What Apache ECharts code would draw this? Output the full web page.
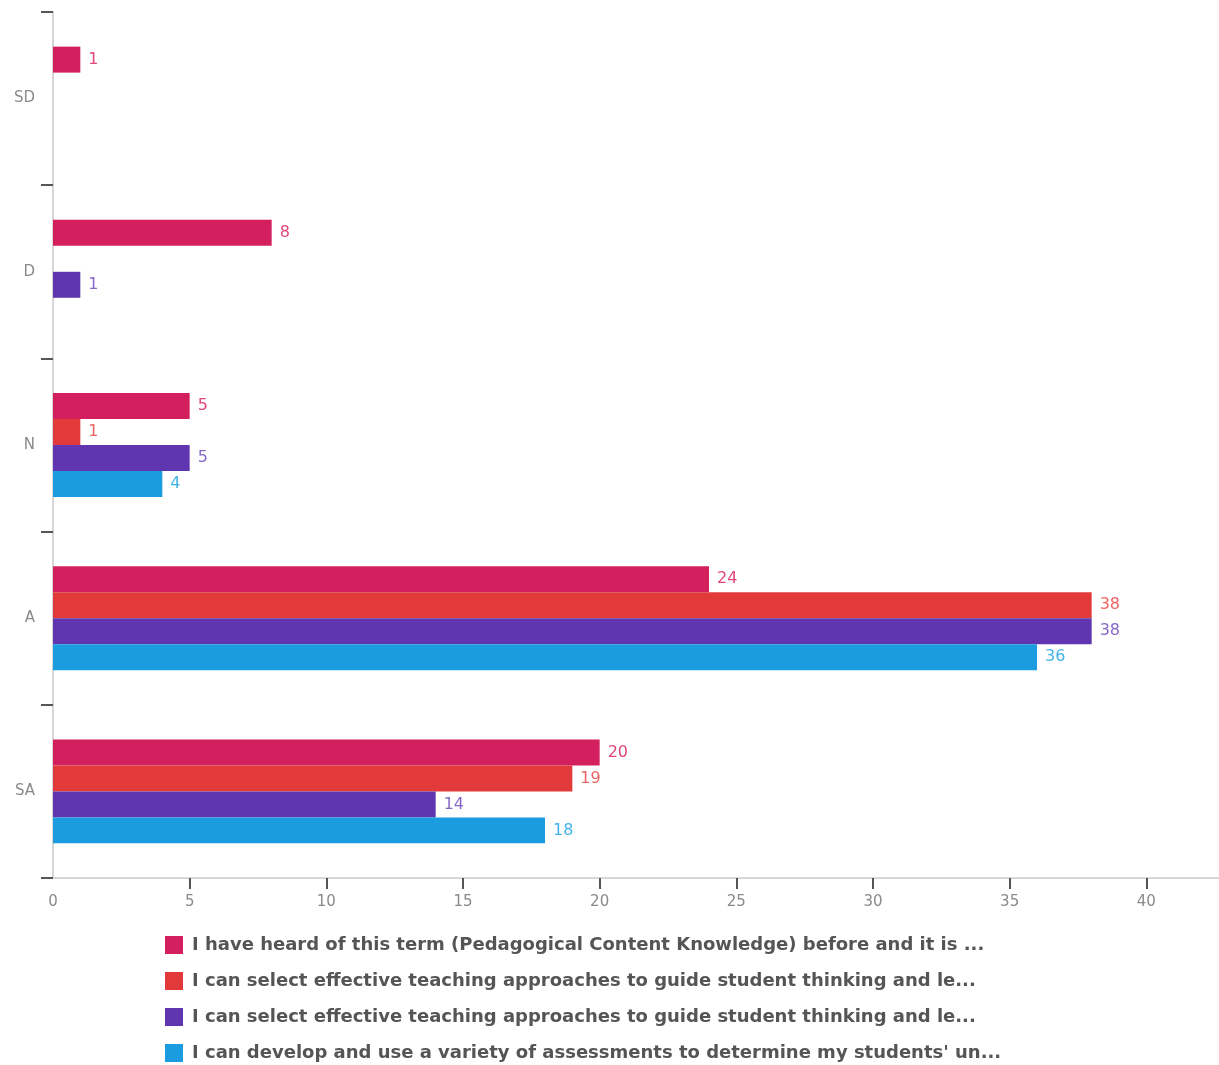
<!DOCTYPE html>
<html>
<head>
<meta charset="utf-8">
<script src="https://cdn.jsdelivr.net/npm/echarts@6/dist/echarts.min.js"></script>
<style>
  html, body { margin: 0; padding: 0; background: #fff; }
  #chart { width: 1219px; height: 1065px; }
</style>
</head>
<body>
<div id="chart"></div>
<script>
// Likert response categories (top to bottom)
const categories = ['SD', 'D', 'N', 'A', 'SA'];

// Survey statements (as shown in the legend)
const seriesNames = [
  'I have heard of this term (Pedagogical Content Knowledge) before and it is ...',
  'I can select effective teaching approaches to guide student thinking and le...',
  'I can select effective teaching approaches to guide student thinking and le...\u200b',
  'I can develop and use a variety of assessments to determine my students\' un...'
];

// Response counts per category; null = no responses
const heardOfTerm       = [1, 8, 5, 24, 20];
const selectApproaches  = [null, null, 1, 38, 19];
const selectApproaches2 = [null, 1, 5, 38, 14];
const useAssessments    = [null, null, 4, 36, 18];

const barColors   = ['#d41f5f', '#e23a3a', '#5f36b0', '#1b9be0'];
const labelColors = ['#e0467c', '#ec6464', '#8667c8', '#45b2ea'];

const valueSets = [heardOfTerm, selectApproaches, selectApproaches2, useAssessments];

const FONT = '"DejaVu Sans", Verdana, sans-serif';

const chart = echarts.init(document.getElementById('chart'));

chart.setOption({
  backgroundColor: '#ffffff',
  animation: false,
  textStyle: { fontFamily: FONT },
  grid: {
    left: 53, top: 12, height: 866, width: 1230,
    containLabel: false,
    outerBoundsMode: 'none'
  },
  xAxis: {
    type: 'value',
    min: 0,
    max: 45,
    interval: 5,
    splitLine: { show: false },
    axisLine: { show: true, lineStyle: { color: '#d6d6d6', width: 2 } },
    axisTick: {
      show: true,
      length: 11,
      lineStyle: { color: '#555', width: 2 },
      customValues: [5, 10, 15, 20, 25, 30, 35, 40]
    },
    axisLabel: { color: '#8a8a8a', fontSize: 15, margin: 17, fontFamily: FONT }
  },
  yAxis: {
    type: 'category',
    data: categories,
    inverse: true,
    axisLine: { show: true, lineStyle: { color: '#d6d6d6', width: 2 } },
    axisTick: { show: true, length: 12, lineStyle: { color: '#555', width: 2 } },
    axisLabel: { color: '#8a8a8a', fontSize: 15, margin: 18, fontFamily: FONT }
  },
  legend: {
    orient: 'vertical',
    left: 160,
    top: 931,
    height: 130,
    itemWidth: 18,
    itemHeight: 18,
    itemGap: 18,
    icon: 'rect',
    textStyle: {
      color: '#555',
      fontSize: 18,
      fontWeight: 'bold',
      fontFamily: FONT,
      padding: [0, 0, 0, 4]
    },
    data: seriesNames
  },
  series: valueSets.map((vals, i) => ({
    name: seriesNames[i],
    type: 'bar',
    data: vals,
    barGap: '0%',
    barCategoryGap: '40%',
    itemStyle: { color: barColors[i] },
    label: {
      show: true,
      position: 'right',
      distance: 8,
      color: labelColors[i],
      fontSize: 16,
      fontFamily: FONT
    }
  }))
});
</script>
</body>
</html>
